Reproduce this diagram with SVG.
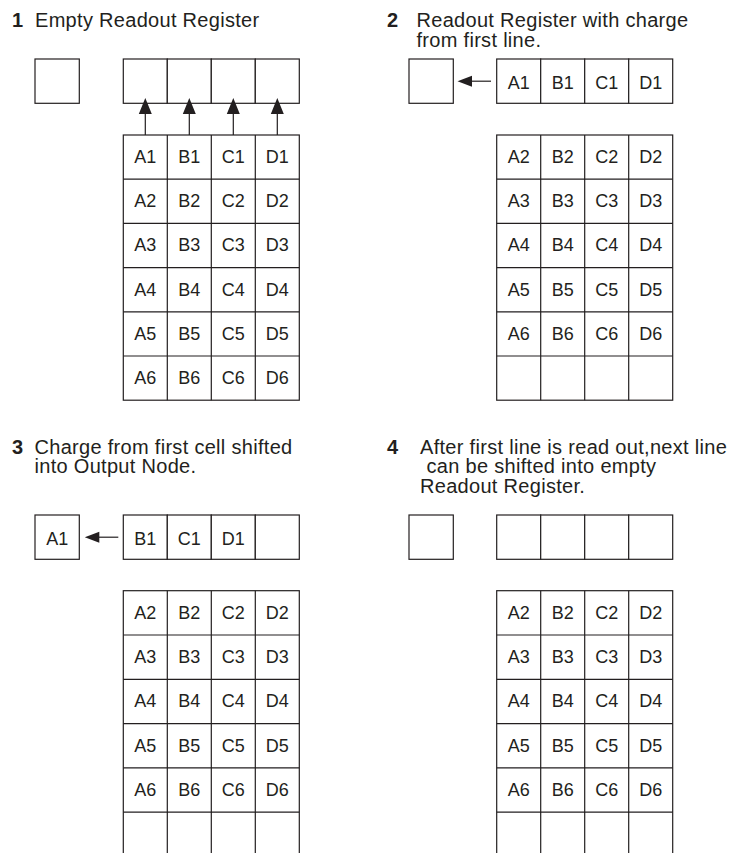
<svg xmlns="http://www.w3.org/2000/svg" width="734" height="853" viewBox="0 0 734 853">
<style>
.c{fill:#fff;stroke:#231f20;stroke-width:1.2}
.t{font-family:"Liberation Sans",Arial,sans-serif;font-size:18px;fill:#231f20;text-anchor:middle}
.h{font-family:"Liberation Sans",Arial,sans-serif;font-size:20px;fill:#231f20;letter-spacing:0.3px}
.n{font-family:"Liberation Sans",Arial,sans-serif;font-size:20px;font-weight:bold;fill:#231f20}
.ln{stroke:#231f20;stroke-width:1.2;fill:none}
.ah{fill:#231f20}
</style>
<rect width="734" height="853" fill="#fff"/>

<!-- Panel 1 -->
<g id="p1-title"><text class="n" x="12" y="27">1</text><text class="h" x="35" y="27">Empty Readout Register</text></g>
<g id="p1-output"><rect class="c" x="35" y="59" width="44.3" height="44.3"/></g>
<g id="p1-register">
<rect class="c" x="123.3" y="59" width="44" height="44.3"/><rect class="c" x="167.3" y="59" width="44" height="44.3"/><rect class="c" x="211.3" y="59" width="44" height="44.3"/><rect class="c" x="255.3" y="59" width="44" height="44.3"/>
</g>
<g id="p1-array">
<rect class="c" x="123.3" y="135" width="176" height="265.2"/>
<path class="ln" d="M167.3 135V400.2M211.3 135V400.2M255.3 135V400.2M123.3 179.2H299.3M123.3 223.4H299.3M123.3 267.6H299.3M123.3 311.8H299.3M123.3 356H299.3"/>
<text class="t" x="145.3" y="163">A1</text><text class="t" x="189.3" y="163">B1</text><text class="t" x="233.3" y="163">C1</text><text class="t" x="277.3" y="163">D1</text>
<text class="t" x="145.3" y="207.2">A2</text><text class="t" x="189.3" y="207.2">B2</text><text class="t" x="233.3" y="207.2">C2</text><text class="t" x="277.3" y="207.2">D2</text>
<text class="t" x="145.3" y="251.4">A3</text><text class="t" x="189.3" y="251.4">B3</text><text class="t" x="233.3" y="251.4">C3</text><text class="t" x="277.3" y="251.4">D3</text>
<text class="t" x="145.3" y="295.6">A4</text><text class="t" x="189.3" y="295.6">B4</text><text class="t" x="233.3" y="295.6">C4</text><text class="t" x="277.3" y="295.6">D4</text>
<text class="t" x="145.3" y="339.8">A5</text><text class="t" x="189.3" y="339.8">B5</text><text class="t" x="233.3" y="339.8">C5</text><text class="t" x="277.3" y="339.8">D5</text>
<text class="t" x="145.3" y="384">A6</text><text class="t" x="189.3" y="384">B6</text><text class="t" x="233.3" y="384">C6</text><text class="t" x="277.3" y="384">D6</text>
</g>

<!-- Panel 2 -->
<g id="p2-title"><text class="n" x="387" y="27">2</text><text class="h" x="416.5" y="27">Readout Register with charge</text><text class="h" x="416.5" y="46.5">from first line.</text></g>
<g id="p2-output"><rect class="c" x="409" y="59" width="44.3" height="44.3"/></g>
<g id="p2-register">
<rect class="c" x="496.7" y="59" width="44" height="44.3"/><rect class="c" x="540.7" y="59" width="44" height="44.3"/><rect class="c" x="584.7" y="59" width="44" height="44.3"/><rect class="c" x="628.7" y="59" width="44" height="44.3"/>
<text class="t" x="518.7" y="88.5">A1</text><text class="t" x="562.7" y="88.5">B1</text><text class="t" x="606.7" y="88.5">C1</text><text class="t" x="650.7" y="88.5">D1</text>
</g>
<g id="p2-array">
<rect class="c" x="496.7" y="135" width="176" height="265.2"/>
<path class="ln" d="M540.7 135V400.2M584.7 135V400.2M628.7 135V400.2M496.7 179.2H672.7M496.7 223.4H672.7M496.7 267.6H672.7M496.7 311.8H672.7M496.7 356H672.7"/>
<text class="t" x="518.7" y="163">A2</text><text class="t" x="562.7" y="163">B2</text><text class="t" x="606.7" y="163">C2</text><text class="t" x="650.7" y="163">D2</text>
<text class="t" x="518.7" y="207.2">A3</text><text class="t" x="562.7" y="207.2">B3</text><text class="t" x="606.7" y="207.2">C3</text><text class="t" x="650.7" y="207.2">D3</text>
<text class="t" x="518.7" y="251.4">A4</text><text class="t" x="562.7" y="251.4">B4</text><text class="t" x="606.7" y="251.4">C4</text><text class="t" x="650.7" y="251.4">D4</text>
<text class="t" x="518.7" y="295.6">A5</text><text class="t" x="562.7" y="295.6">B5</text><text class="t" x="606.7" y="295.6">C5</text><text class="t" x="650.7" y="295.6">D5</text>
<text class="t" x="518.7" y="339.8">A6</text><text class="t" x="562.7" y="339.8">B6</text><text class="t" x="606.7" y="339.8">C6</text><text class="t" x="650.7" y="339.8">D6</text>
</g>

<!-- Panel 3 -->
<g id="p3-title"><text class="n" x="12" y="454">3</text><text class="h" x="34.5" y="454">Charge from first cell shifted</text><text class="h" x="34.5" y="473.3">into Output Node.</text></g>
<g id="p3-output"><rect class="c" x="35" y="515" width="44.3" height="44.3"/><text class="t" x="57.2" y="544.5">A1</text></g>
<g id="p3-register">
<rect class="c" x="123.3" y="515" width="44" height="44.3"/><rect class="c" x="167.3" y="515" width="44" height="44.3"/><rect class="c" x="211.3" y="515" width="44" height="44.3"/><rect class="c" x="255.3" y="515" width="44" height="44.3"/>
<text class="t" x="145.3" y="544.5">B1</text><text class="t" x="189.3" y="544.5">C1</text><text class="t" x="233.3" y="544.5">D1</text>
</g>
<g id="p3-array">
<rect class="c" x="123.3" y="590.7" width="176" height="270"/>
<path class="ln" d="M167.3 590.7V860M211.3 590.7V860M255.3 590.7V860M123.3 635H299.3M123.3 679.3H299.3M123.3 723.6H299.3M123.3 767.9H299.3M123.3 812.2H299.3"/>
<text class="t" x="145.3" y="618.7">A2</text><text class="t" x="189.3" y="618.7">B2</text><text class="t" x="233.3" y="618.7">C2</text><text class="t" x="277.3" y="618.7">D2</text>
<text class="t" x="145.3" y="663">A3</text><text class="t" x="189.3" y="663">B3</text><text class="t" x="233.3" y="663">C3</text><text class="t" x="277.3" y="663">D3</text>
<text class="t" x="145.3" y="707.3">A4</text><text class="t" x="189.3" y="707.3">B4</text><text class="t" x="233.3" y="707.3">C4</text><text class="t" x="277.3" y="707.3">D4</text>
<text class="t" x="145.3" y="751.6">A5</text><text class="t" x="189.3" y="751.6">B5</text><text class="t" x="233.3" y="751.6">C5</text><text class="t" x="277.3" y="751.6">D5</text>
<text class="t" x="145.3" y="795.9">A6</text><text class="t" x="189.3" y="795.9">B6</text><text class="t" x="233.3" y="795.9">C6</text><text class="t" x="277.3" y="795.9">D6</text>
</g>

<!-- Panel 4 -->
<g id="p4-title"><text class="n" x="387" y="454">4</text><text class="h" x="420" y="454">After first line is read out,next line</text><text class="h" x="426.5" y="473.3">can be shifted into empty</text><text class="h" x="420" y="492.7">Readout Register.</text></g>
<g id="p4-output"><rect class="c" x="409" y="515" width="44.3" height="44.3"/></g>
<g id="p4-register">
<rect class="c" x="496.7" y="515" width="44" height="44.3"/><rect class="c" x="540.7" y="515" width="44" height="44.3"/><rect class="c" x="584.7" y="515" width="44" height="44.3"/><rect class="c" x="628.7" y="515" width="44" height="44.3"/>
</g>
<g id="p4-array">
<rect class="c" x="496.7" y="590.7" width="176" height="270"/>
<path class="ln" d="M540.7 590.7V860M584.7 590.7V860M628.7 590.7V860M496.7 635H672.7M496.7 679.3H672.7M496.7 723.6H672.7M496.7 767.9H672.7M496.7 812.2H672.7"/>
<text class="t" x="518.7" y="618.7">A2</text><text class="t" x="562.7" y="618.7">B2</text><text class="t" x="606.7" y="618.7">C2</text><text class="t" x="650.7" y="618.7">D2</text>
<text class="t" x="518.7" y="663">A3</text><text class="t" x="562.7" y="663">B3</text><text class="t" x="606.7" y="663">C3</text><text class="t" x="650.7" y="663">D3</text>
<text class="t" x="518.7" y="707.3">A4</text><text class="t" x="562.7" y="707.3">B4</text><text class="t" x="606.7" y="707.3">C4</text><text class="t" x="650.7" y="707.3">D4</text>
<text class="t" x="518.7" y="751.6">A5</text><text class="t" x="562.7" y="751.6">B5</text><text class="t" x="606.7" y="751.6">C5</text><text class="t" x="650.7" y="751.6">D5</text>
<text class="t" x="518.7" y="795.9">A6</text><text class="t" x="562.7" y="795.9">B6</text><text class="t" x="606.7" y="795.9">C6</text><text class="t" x="650.7" y="795.9">D6</text>
</g>

<!-- Connectors -->
<g id="connectors">
<path class="ln" d="M145.3 135V113M189.3 135V113M233.3 135V113M277.3 135V113"/>
<path class="ah" d="M145.3 98L151.8 114H138.8ZM189.3 98L195.8 114H182.8ZM233.3 98L239.8 114H226.8ZM277.3 98L283.8 114H270.8Z"/>
<path class="ln" d="M491 81.2H470"/>
<path class="ah" d="M457.5 81.2L472 75.7V86.7Z"/>
<path class="ln" d="M118.3 537.2H97"/>
<path class="ah" d="M84.8 537.2L99.3 531.7V542.7Z"/>
</g>
</svg>
